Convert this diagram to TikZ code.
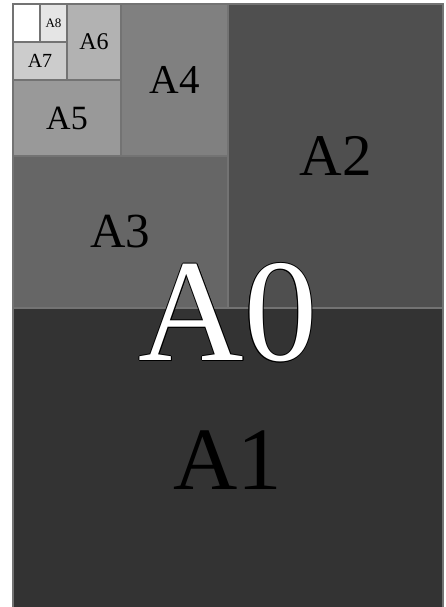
\documentclass[tikz,border=0pt]{standalone}
\usepackage{fontspec}
\setmainfont{Liberation Serif}
\usetikzlibrary{positioning}

\definecolor{sheetline}{gray}{0.45}
\definecolor{a1fill}{gray}{0.20}
\definecolor{a2fill}{gray}{0.31}
\definecolor{a3fill}{gray}{0.40}
\definecolor{a4fill}{gray}{0.50}
\definecolor{a5fill}{gray}{0.60}
\definecolor{a6fill}{gray}{0.70}
\definecolor{a7fill}{gray}{0.80}
\definecolor{a8fill}{gray}{0.90}

% white letters with a thin black rim
\newcommand{\outlined}[1]{%
  \foreach \dx/\dy in {0.9/0,-0.9/0,0/0.9,0/-0.9,0.64/0.64,-0.64/0.64,0.64/-0.64,-0.64/-0.64}{%
    \rlap{\hspace*{\dx pt}\raisebox{\dy pt}{\color{black}#1}}}%
  \textcolor{white}{#1}}

\begin{document}
\begin{tikzpicture}[
    x=1pt, y=-1pt,
    sheet/.style={draw=sheetline, line width=1.5pt, inner sep=0pt, rectangle},
    lbl/.style={font=\fontsize{#1pt}{#1pt}\selectfont}
]
\useasboundingbox[fill=white] (0,0) rectangle (446,607);
\node[sheet, fill=a1fill, minimum width=430pt, minimum height=304pt, lbl=89] (a1) at (228,460) {A1};
\node[sheet, fill=a2fill, minimum width=215pt, minimum height=304pt, lbl=59] (a2) at (335.5,156) {A2};
\node[sheet, fill=a3fill, minimum width=215pt, minimum height=152pt, lbl=49] (a3) at (120.5,232) {A3};
\node[sheet, fill=a4fill, minimum width=107pt, minimum height=152pt, lbl=41] (a4) at (174.5,80) {A4};
\node[sheet, fill=a5fill, minimum width=108pt, minimum height=76pt, lbl=34] (a5) at (67,118) {A5};
\node[sheet, fill=a6fill, minimum width=54pt, minimum height=76pt, lbl=24] (a6) at (94,42) {A6};
\node[sheet, fill=a7fill, minimum width=54pt, minimum height=38pt, lbl=20] (a7) at (40,61) {A7};
\node[sheet, fill=a8fill, minimum width=27pt, minimum height=38pt, lbl=13] (a8) at (53.5,23) {A8};
\node[sheet, fill=white, minimum width=27pt, minimum height=38pt] (a9) at (26.5,23) {};
\node[lbl=146] (a0) at (228,313) {\outlined{A0}};
\end{tikzpicture}
\end{document}
